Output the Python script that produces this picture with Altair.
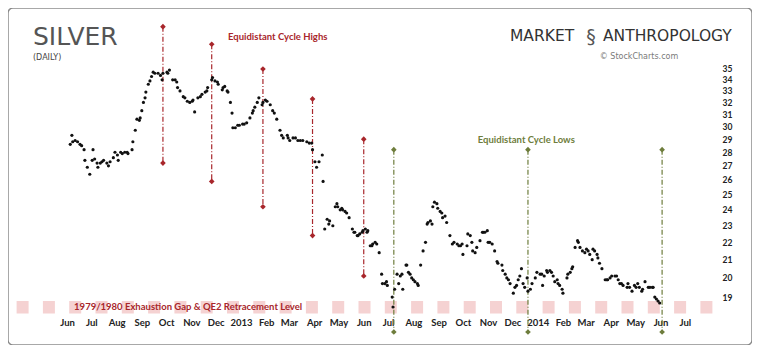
import altair as alt
import pandas as pd

# ---- daily closes (approximate) ----
dates = [
    "2012-06-05", "2012-06-07", "2012-06-08", "2012-06-14", "2012-06-19", "2012-06-22", "2012-06-23", "2012-06-26", "2012-06-29",
    "2012-07-02", "2012-07-03", "2012-07-08", "2012-07-09", "2012-07-14", "2012-07-20", "2012-07-24", "2012-07-28", "2012-07-30",
    "2012-08-03", "2012-08-08", "2012-08-11", "2012-08-15", "2012-08-20", "2012-08-21", "2012-08-24", "2012-08-26", "2012-08-30",
    "2012-09-01", "2012-09-03", "2012-09-06", "2012-09-09", "2012-09-13", "2012-09-15", "2012-09-21", "2012-09-27",
    "2012-10-02", "2012-10-05", "2012-10-09", "2012-10-14", "2012-10-18", "2012-10-22", "2012-10-27", "2012-10-30",
    "2012-11-03", "2012-11-05", "2012-11-09", "2012-11-14", "2012-11-18", "2012-11-21", "2012-11-26", "2012-11-30",
    "2012-12-04", "2012-12-09", "2012-12-12", "2012-12-16", "2012-12-19", "2012-12-21", "2012-12-25", "2012-12-28",
    "2013-01-03", "2013-01-08", "2013-01-12", "2013-01-16", "2013-01-21", "2013-01-23", "2013-01-28",
    "2013-02-02", "2013-02-06", "2013-02-09", "2013-02-14", "2013-02-18", "2013-02-22", "2013-02-27",
    "2013-03-02", "2013-03-06", "2013-03-12", "2013-03-18", "2013-03-23", "2013-03-29", "2013-03-30",
    "2013-04-02", "2013-04-04", "2013-04-07", "2013-04-11", "2013-04-12", "2013-04-14", "2013-04-17", "2013-04-20", "2013-04-24", "2013-04-27", "2013-04-29",
    "2013-05-03", "2013-05-06", "2013-05-11", "2013-05-14", "2013-05-18", "2013-05-21", "2013-05-24", "2013-05-27", "2013-05-31",
    "2013-06-05", "2013-06-09", "2013-06-12", "2013-06-17", "2013-06-20", "2013-06-23", "2013-06-27", "2013-06-30",
    "2013-07-06", "2013-07-07", "2013-07-09", "2013-07-12", "2013-07-16", "2013-07-19", "2013-07-23", "2013-07-26", "2013-07-30",
    "2013-08-03", "2013-08-07", "2013-08-10", "2013-08-13", "2013-08-16", "2013-08-19", "2013-08-24", "2013-08-25", "2013-08-30", "2013-08-31",
    "2013-09-05", "2013-09-06", "2013-09-11", "2013-09-15", "2013-09-18", "2013-09-24", "2013-09-28",
    "2013-10-01", "2013-10-06", "2013-10-10", "2013-10-13", "2013-10-18", "2013-10-22", "2013-10-26", "2013-10-31",
    "2013-11-01", "2013-11-06", "2013-11-09", "2013-11-13", "2013-11-18", "2013-11-22", "2013-11-24", "2013-11-28",
    "2013-12-02", "2013-12-06", "2013-12-10", "2013-12-14", "2013-12-19", "2013-12-23", "2013-12-29",
    "2014-01-04", "2014-01-07", "2014-01-12", "2014-01-16", "2014-01-20", "2014-01-25", "2014-01-28",
    "2014-02-01", "2014-02-06", "2014-02-10", "2014-02-13", "2014-02-16", "2014-02-20", "2014-02-25", "2014-02-28",
    "2014-03-04", "2014-03-09", "2014-03-12", "2014-03-16", "2014-03-21", "2014-03-25", "2014-03-28",
    "2014-04-02", "2014-04-08", "2014-04-12", "2014-04-16", "2014-04-21", "2014-04-22", "2014-04-27", "2014-04-30",
    "2014-05-04", "2014-05-09", "2014-05-13", "2014-05-17", "2014-05-22", "2014-05-25", "2014-05-29", "2014-05-31",
    # further readings between the ones above
    "2012-06-11", "2012-06-17", "2012-07-05", "2012-07-12", "2012-07-16", "2012-07-22", "2012-08-02", "2012-08-06",
    "2012-08-14", "2012-08-29", "2012-09-05", "2012-09-11", "2012-09-17", "2012-09-24", "2012-09-26", "2012-10-03",
    "2012-10-12", "2012-10-15", "2012-10-24", "2012-11-02", "2012-11-12", "2012-11-20", "2012-11-27", "2012-12-03",
    "2012-12-10", "2012-12-15", "2012-12-22", "2012-12-30", "2013-01-05", "2013-01-15", "2013-01-18", "2013-01-27",
    "2013-01-31", "2013-02-11", "2013-02-20", "2013-02-28", "2013-03-09", "2013-03-15", "2013-03-26", "2013-04-19",
    "2013-04-30", "2013-05-05", "2013-05-09", "2013-05-20", "2013-05-25", "2013-05-30", "2013-06-03", "2013-06-06",
    "2013-06-11", "2013-06-15", "2013-06-24", "2013-06-29", "2013-07-14", "2013-07-18", "2013-07-24", "2013-07-28",
    "2013-08-01", "2013-08-06", "2013-08-18", "2013-08-22", "2013-08-27", "2013-09-03", "2013-09-09", "2013-09-20",
    "2013-09-26", "2013-09-30", "2013-10-07", "2013-10-12", "2013-10-16", "2013-10-25", "2013-10-28", "2013-11-03",
    "2013-11-12", "2013-11-19", "2013-11-26", "2013-12-04", "2013-12-08", "2013-12-12", "2013-12-16", "2013-12-20",
    "2013-12-25", "2013-12-31", "2014-01-06", "2014-01-09", "2014-01-13", "2014-01-18", "2014-01-22", "2014-01-26",
    "2014-01-31", "2014-02-07", "2014-02-12", "2014-02-19", "2014-02-22", "2014-03-02", "2014-03-06", "2014-03-10",
    "2014-03-15", "2014-03-18", "2014-03-27", "2014-03-31", "2014-04-06", "2014-04-10", "2014-04-14", "2014-04-24",
    "2014-05-02", "2014-05-06", "2014-05-10", "2014-05-19", "2014-05-23", "2014-05-27",
]
prices = [
    28.6, 29.3, 28.8, 28.8, 28.5, 28.2, 27.4, 26.9, 26.4,
    27.4, 28.2, 27.2, 26.9, 27.3, 27.2, 27.3, 27.6, 28.0,
    27.4, 27.9, 28.0, 27.9, 28.2, 28.8, 29.7, 30.6, 30.7,
    31.3, 32.0, 32.9, 33.6, 34.3, 34.7, 34.6, 34.6,
    34.7, 34.9, 34.0, 33.8, 33.0, 32.5, 32.1, 32.0,
    32.2, 31.2, 32.4, 32.7, 32.9, 33.3, 34.0, 33.9,
    33.6, 33.1, 33.4, 32.9, 32.0, 31.1, 29.9, 30.1,
    30.2, 30.3, 30.7, 31.3, 32.0, 32.4, 32.0,
    32.1, 31.8, 31.3, 30.6, 29.7, 29.1, 29.3,
    28.9, 29.1, 28.9, 28.9, 28.8, 28.7, 28.2,
    27.3, 26.9, 27.3, 27.8, 25.9, 22.8, 23.4, 23.3, 23.0, 24.2, 24.4,
    24.0, 24.0, 23.8, 23.5, 22.8, 22.6, 22.4, 22.5, 22.7,
    22.6, 21.8, 21.9, 21.9, 21.4, 20.2, 19.7, 19.6,
    19.0, 18.5, 19.4, 20.2, 20.1, 19.4, 20.7, 20.3, 20.0,
    19.8, 19.6, 20.7, 21.5, 22.0, 23.2, 23.1, 24.2, 24.4, 24.1,
    23.8, 23.5, 23.2, 22.4, 21.9, 21.9, 21.8,
    21.3, 21.8, 22.4, 21.5, 21.7, 22.1, 22.6, 22.7,
    22.0, 21.9, 21.5, 20.8, 20.7, 20.2, 20.0, 19.7,
    19.2, 19.6, 20.1, 19.7, 20.0, 19.4, 20.0,
    20.2, 19.6, 20.4, 20.4, 20.1, 19.9, 19.6,
    19.2, 20.0, 20.3, 20.6, 21.7, 22.0, 21.5, 21.4,
    21.5, 21.0, 21.5, 21.1, 20.5, 19.9, 19.9,
    20.1, 20.1, 19.7, 19.6, 19.5, 19.7, 19.3, 19.6,
    19.7, 19.3, 19.8, 19.5, 19.5, 19.0, 18.8, 18.7,
    # further readings
    28.9, 28.6, 27.5, 27.2, 27.4, 27.0, 27.8, 28.0,
    28.0, 30.5, 32.4, 33.9, 34.6, 34.4, 34.0, 34.6,
    34.0, 33.3, 32.4, 32.1, 32.5, 33.0, 34.2, 33.8,
    33.3, 33.0, 29.9, 30.1, 30.2, 31.1, 31.6, 31.8,
    32.2, 31.1, 29.3, 29.1, 29.1, 28.9, 28.7, 23.1,
    24.2, 24.1, 23.9, 22.6, 22.4, 22.6, 22.8, 22.7,
    21.8, 22.0, 19.7, 19.8, 19.7, 20.2, 20.7, 20.2,
    19.9, 19.7, 23.1, 23.3, 24.5, 23.9, 23.6, 22.0,
    21.8, 21.9, 22.5, 22.0, 21.4, 22.6, 22.6, 22.0,
    20.9, 20.4, 19.9, 19.5, 19.9, 20.5, 19.5, 19.3,
    19.7, 20.3, 20.2, 20.1, 20.3, 20.3, 19.8, 19.7,
    19.4, 20.2, 20.5, 22.1, 21.7, 21.6, 21.3, 21.6,
    21.3, 20.8, 19.9, 20.0, 20.1, 19.9, 19.7, 19.5,
    19.5, 19.5, 19.4, 19.5, 19.5, 18.9,
]

# ---- tick labels ----
y_ticks = list(range(19, 36))
month_ticks = [(2012, m) for m in range(6, 13)] + [(2013, m) for m in range(1, 13)] + [(2014, m) for m in range(1, 8)]

# ---- annotations ----
high_dates = ["2012-09-27", "2012-11-26", "2013-01-28", "2013-03-30", "2013-06-01"]
high_tops = [39.2, 37.4, 35.0, 32.3, 29.0]
high_bottoms = [27.2, 25.9, 24.2, 22.4, 20.1]
low_dates = ["2013-07-08", "2013-12-20", "2014-06-03"]
low_tops = [28.2, 28.2, 28.2]
low_bottoms = [17.3, 17.3, 17.3]

band_start, band_end, band_level = "2012-03-31", "2014-08-05", 18.49
band_label = "1979/1980 Exhaustion Gap & QE2 Retracement Level"
band_label_date = "2012-10-28"
highs_label, highs_label_date, highs_label_value = "Equidistant Cycle Highs", "2012-12-16", 38.1
lows_label, lows_label_date, lows_label_value = "Equidistant Cycle Lows", "2013-12-18", 28.9

RED = "#a8262b"
GREEN = "#6e7d3c"
PINK = "#f5d2d2"
FONT = "Lato"
TFONT = "DejaVu Sans"

xscale = alt.Scale(type="utc",
                   domain=[alt.DateTime(year=2012, month=3, date=20, hours=10, utc=True),
                           alt.DateTime(year=2014, month=9, date=21, hours=14, utc=True)])
yscale = alt.Scale(type="log", domain=[16.71, 41.21], nice=False, zero=False)

xaxis = alt.Axis(
    values=[alt.DateTime(year=y, month=m, date=1, utc=True) for y, m in month_ticks],
    labelExpr="utcmonth(datum.value) == 0 ? utcFormat(datum.value, '%Y') : utcFormat(datum.value, '%b')",
    ticks=False, domain=False, grid=False, offset=-28, labelPadding=0,
    labelFont=FONT, labelFontWeight="bold", labelFontSize=9.5, labelColor="#222222",
    labelOverlap=False, labelFlush=False, labelBound=False, title=None,
)
yaxis = alt.Axis(
    values=y_ticks, format="d", orient="right", ticks=False, domain=False, grid=False,
    offset=-30, labelPadding=0, labelAlign="left", labelOverlap=False,
    labelFont=FONT, labelFontWeight="bold", labelFontSize=8.5, labelColor="#222222", title=None,
)

price_df = pd.DataFrame({"date": dates, "price": prices})
cyc = pd.DataFrame({
    "date": high_dates + low_dates,
    "top": high_tops + low_tops,
    "bottom": high_bottoms + low_bottoms,
    "kind": ["high"] * len(high_dates) + ["low"] * len(low_dates),
})
ends = pd.concat([
    cyc[["date", "top", "kind"]].rename(columns={"top": "value"}),
    cyc[["date", "bottom", "kind"]].rename(columns={"bottom": "value"}),
])
band_df = pd.DataFrame({"start": [band_start], "end": [band_end], "level": [band_level]})
highs_df = pd.DataFrame({"date": [highs_label_date], "value": [highs_label_value], "text": [highs_label]})
lows_df = pd.DataFrame({"date": [lows_label_date], "value": [lows_label_value], "text": [lows_label]})
band_text_df = pd.DataFrame({"date": [band_label_date], "value": [band_level], "text": [band_label]})
one_row = pd.DataFrame({"k": [0]})

kind_color = alt.Color("kind:N", scale=alt.Scale(domain=["high", "low"], range=[RED, GREEN]), legend=None)


def X(field):
    return alt.X(field, scale=xscale, axis=xaxis)


def Y(field):
    return alt.Y(field, scale=yscale, axis=yaxis)


band = alt.Chart(band_df).mark_rule(strokeWidth=12.5, strokeDash=[12, 14.3], color=PINK).encode(
    x=X("start:T"), x2="end:T", y=Y("level:Q"),
)
band_text = alt.Chart(band_text_df).mark_text(
    font=FONT, fontWeight="bold", fontSize=9.5, color=RED, baseline="middle", align="center"
).encode(x=X("date:T"), y=Y("value:Q"), text="text:N")

rules = alt.Chart(cyc).mark_rule(strokeWidth=1.2, strokeDash=[5, 2, 1, 2]).encode(
    x=X("date:T"), y=Y("top:Q"), y2="bottom:Q", color=kind_color,
)
diamonds = alt.Chart(ends).mark_point(shape="diamond", filled=True, size=32, opacity=1).encode(
    x=X("date:T"), y=Y("value:Q"), color=kind_color,
)
dots = alt.Chart(price_df).mark_circle(size=10, color="#111111", opacity=1).encode(
    x=X("date:T"), y=Y("price:Q"),
)
highs_text = alt.Chart(highs_df).mark_text(
    font=FONT, fontWeight="bold", fontSize=9.5, baseline="middle", align="left", color=RED
).encode(x=X("date:T"), y=Y("value:Q"), text="text:N")
lows_text = alt.Chart(lows_df).mark_text(
    font=FONT, fontWeight="bold", fontSize=9.5, baseline="middle", align="center", color=GREEN
).encode(x=X("date:T"), y=Y("value:Q"), text="text:N")


def label(txt, x, y, size, color, weight=400, align="left", baseline="alphabetic"):
    return alt.Chart(one_row).mark_text(
        text=txt, font=TFONT, fontSize=size, fontWeight=weight, color=color, align=align, baseline=baseline
    ).encode(x=alt.value(x), y=alt.value(y))


title = label("SILVER", 25, 37, 25, "#555555")
subtitle = label("(DAILY)", 25, 52, 8, "#444444")
logo1 = label("MARKET", 502, 33, 15.5, "#333333")
logo_mark = label("§", 583, 35, 19, "#555555", align="center")
logo2 = label("ANTHROPOLOGY", 595, 33, 15.5, "#333333")
credit = label("© StockCharts.com", 631, 49, 8, "#7a7a7a", align="center", baseline="middle")

chart = alt.layer(
    band, band_text, rules, diamonds, dots, highs_text, lows_text,
    title, subtitle, logo1, logo_mark, logo2, credit,
).properties(
    width=744, height=337, padding=0, autosize=alt.AutoSizeParams(type="none"),
    background="white",
).configure_view(
    stroke="#8c8c8c", strokeWidth=1.5, cornerRadius=5
).configure_axis(labelOverlap=False)

chart.save("out.html", embed_options={"renderer": "svg", "actions": False})
